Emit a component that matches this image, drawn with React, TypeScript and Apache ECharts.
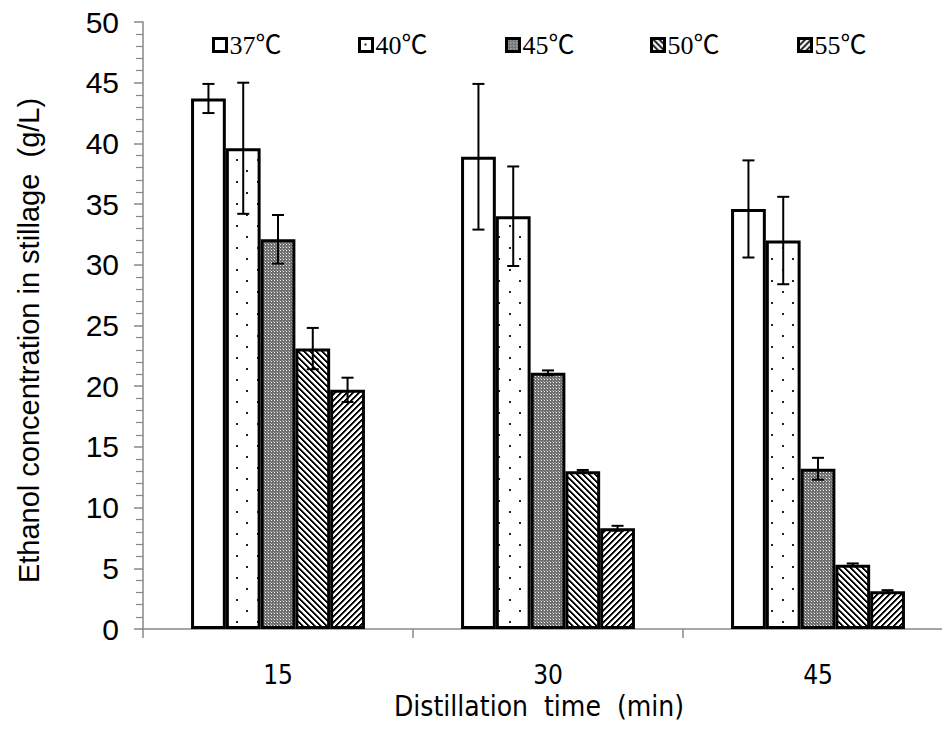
import React, { useEffect, useRef } from "react";
import * as echarts from "echarts";

const categories = ["15", "30", "45"];
const seriesNames = ["37℃", "40℃", "45℃", "50℃", "55℃"];
const values37 = [43.7, 38.9, 34.6];
const values40 = [39.6, 34.0, 32.0];
const values45 = [32.1, 21.1, 13.2];
const values50 = [23.1, 13.0, 5.3];
const values55 = [19.7, 8.3, 3.1];
const err37 = [1.2, 6.0, 4.0];
const err40 = [5.4, 4.1, 3.6];
const err45 = [2.0, 0.2, 0.9];
const err50 = [1.7, 0.1, 0.1];
const err55 = [1.0, 0.2, 0.1];
const yTicks = { min: 0, max: 50, interval: 5 };

const allValues = [values37, values40, values45, values50, values55];
const allErrors = [err37, err40, err45, err50, err55];

const CATEGORY_GAP = 0.356;

function makePattern(w: number, h: number, draw: (ctx: CanvasRenderingContext2D) => void) {
  const c = document.createElement("canvas");
  c.width = w;
  c.height = h;
  const ctx = c.getContext("2d")!;
  ctx.fillStyle = "#fff";
  ctx.fillRect(0, 0, w, h);
  draw(ctx);
  return { image: c.toDataURL(), repeat: "repeat", imageWidth: w, imageHeight: h } as any;
}

export default function App() {
  const ref = useRef<HTMLDivElement>(null);
  useEffect(() => {
    if (!ref.current) return;
    document.body.style.margin = "0";
    document.body.style.overflow = "hidden";
    const chart = echarts.init(ref.current, undefined, { renderer: "svg" });

    const white = "#ffffff";
    const dots = makePattern(21, 22, (ctx) => {
      ctx.fillStyle = "#222";
      ctx.fillRect(5, 5, 2, 2);
      ctx.fillRect(15, 16, 2, 2);
    });
    const checker = makePattern(3, 3, (ctx) => {
      ctx.fillStyle = "#6e6e6e";
      ctx.fillRect(0, 0, 3, 3);
      ctx.fillStyle = "#f0f0f0";
      ctx.fillRect(1, 1, 1, 1);
      ctx.fillStyle = "#a8a8a8";
      ctx.fillRect(0, 0, 1, 1);
    });
    const back = makePattern(6, 6, (ctx) => {
      for (let y = 0; y < 6; y++)
        for (let x = 0; x < 6; x++) {
          const m = (((x - y) % 6) + 6) % 6;
          if (m < 2) {
            ctx.fillStyle = "#000";
            ctx.fillRect(x, y, 1, 1);
          } else if (m === 2) {
            ctx.fillStyle = "#777";
            ctx.fillRect(x, y, 1, 1);
          }
        }
    });
    const fwd = makePattern(6, 6, (ctx) => {
      for (let y = 0; y < 6; y++)
        for (let x = 0; x < 6; x++) {
          const m = (x + y) % 6;
          if (m < 2) {
            ctx.fillStyle = "#000";
            ctx.fillRect(x, y, 1, 1);
          } else if (m === 2) {
            ctx.fillStyle = "#777";
            ctx.fillRect(x, y, 1, 1);
          }
        }
    });
    const fills = [white, dots, checker, back, fwd];

    const legendX = [212, 358, 505, 650, 797];
    const legends = seriesNames.map((n, i) => ({
      data: [n],
      left: legendX[i],
      top: 32,
      icon: "rect",
      itemWidth: 13,
      itemHeight: 13,
      itemGap: 0,
      padding: 0,
      selectedMode: false,
      textStyle: { fontFamily: "'Liberation Serif', 'Noto Sans CJK SC', serif", fontSize: 26, color: "#000", padding: [0, 0, 0, -2] },
      itemStyle: { borderColor: "#000", borderWidth: 3 },
    }));

    const barSeries = seriesNames.map((n, i) => ({
      name: n,
      type: "bar",
      data: allValues[i],
      barGap: "0%",
      barCategoryGap: CATEGORY_GAP * 100 + "%",
      itemStyle: { color: fills[i], borderColor: "#000", borderWidth: 3 },
      z: 2,
    }));

    const errData: number[][] = [];
    for (let s = 0; s < 5; s++)
      for (let c = 0; c < categories.length; c++) errData.push([c, s, allValues[s][c], allErrors[s][c]]);

    const errSeries = {
      type: "custom",
      z: 5,
      silent: true,
      encode: { x: 0, y: 2 },
      data: errData,
      renderItem: (params: any, api: any) => {
        const ci = api.value(0);
        const si = api.value(1);
        const v = api.value(2);
        const e = api.value(3);
        const cw = api.size([1, 0])[0];
        const gw = cw * (1 - CATEGORY_GAP);
        const bw = gw / 5;
        const x = api.coord([ci, 0])[0] - gw / 2 + (si + 0.5) * bw;
        const yt = api.coord([ci, v + e])[1];
        const yb = api.coord([ci, v - e])[1];
        const cap = 6;
        const st = { stroke: "#000", lineWidth: 2 };
        return {
          type: "group",
          children: [
            { type: "line", shape: { x1: x, y1: yt, x2: x, y2: yb }, style: st },
            { type: "line", shape: { x1: x - cap, y1: yt, x2: x + cap, y2: yt }, style: st },
            { type: "line", shape: { x1: x - cap, y1: yb, x2: x + cap, y2: yb }, style: st },
          ],
        };
      },
    };

    const axisGray = "#888888";
    const narrow = "'Liberation Sans Narrow', 'Arial Narrow', 'DejaVu Sans Condensed', 'Liberation Sans', sans-serif";
    chart.setOption({
      animation: false,
      backgroundColor: "#fff",
      legend: legends,
      grid: { left: 143, top: 22, bottom: 113, width: 810, containLabel: false },
      xAxis: {
        type: "category",
        data: categories,
        axisLine: { show: true, lineStyle: { color: axisGray, width: 1.5 } },
        axisTick: { show: true, alignWithLabel: false, length: 9, lineStyle: { color: axisGray, width: 1.5 } },
        axisLabel: { margin: 33, fontFamily: narrow, fontSize: 26, color: "#000" },
        name: "Distillation  time  (min)",
        nameLocation: "middle",
        nameGap: 53,
        nameTextStyle: { fontFamily: narrow, fontSize: 28, color: "#000", padding: [0, 18, 0, 0] },
        splitLine: { show: false },
      },
      yAxis: {
        type: "value",
        min: yTicks.min,
        max: yTicks.max,
        interval: yTicks.interval,
        axisLine: { show: true, lineStyle: { color: axisGray, width: 1.5 } },
        axisTick: { show: true, length: 9, lineStyle: { color: axisGray, width: 1.5 } },
        minorTick: { show: true, splitNumber: 5, length: 7, lineStyle: { color: axisGray, width: 1.2 } },
        splitLine: { show: false },
        axisLabel: { margin: 24, fontFamily: "'Liberation Sans', Arial, sans-serif", fontSize: 30, color: "#000" },
        name: "Ethanol concentration in stillage  (g/L)",
        nameLocation: "middle",
        nameGap: 100,
        nameTextStyle: { fontFamily: "'Liberation Sans', Arial, sans-serif", fontSize: 29, color: "#000", padding: [0, 30, 0, 0] },
      },
      series: [...barSeries, errSeries],
    } as any);
    return () => chart.dispose();
  }, []);
  return (
    <div
      ref={ref}
      style={{ position: "fixed", left: 0, top: 0, width: 960, height: 742, background: "#fff" }}
    />
  );
}
